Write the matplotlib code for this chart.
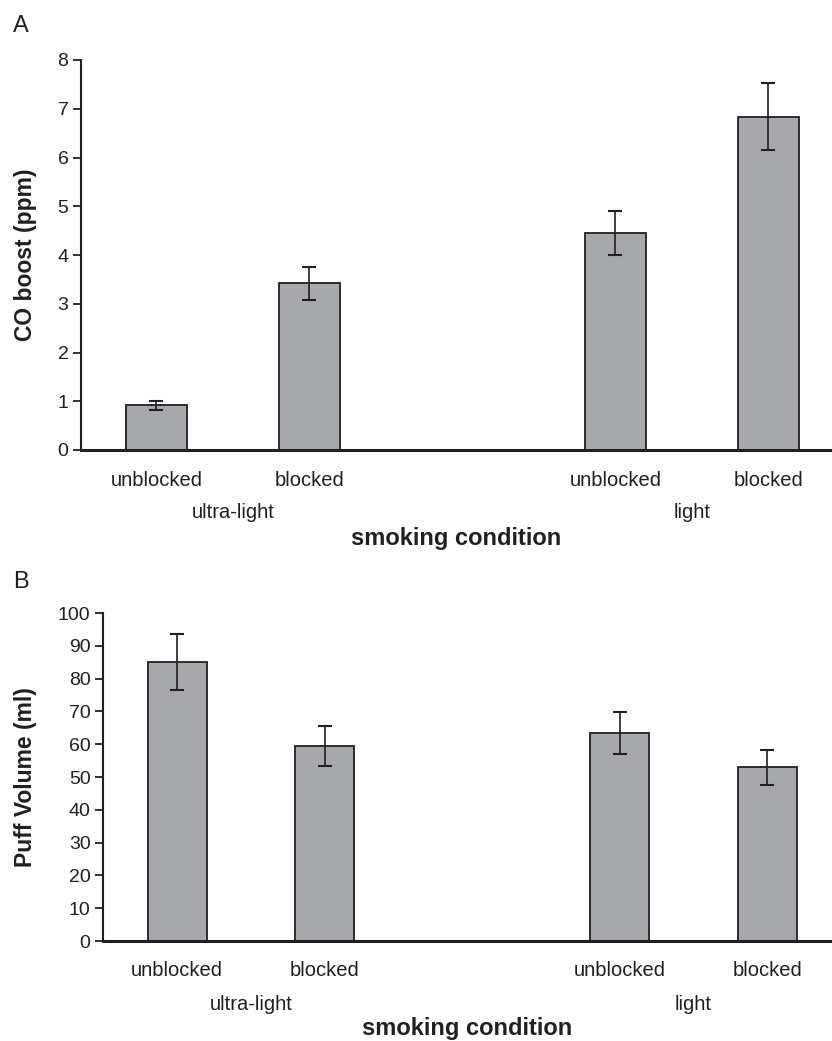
import matplotlib
matplotlib.use("Agg")
import matplotlib.pyplot as plt
from matplotlib.transforms import blended_transform_factory
import numpy as np

plt.rcParams['font.family'] = ['Liberation Sans', 'DejaVu Sans']

conditions = ["unblocked", "blocked", "unblocked", "blocked"]
groups = ["ultra-light", "light"]
positions = [0, 1, 3, 4]

co_boost = [0.92, 3.42, 4.46, 6.84]
co_err = [0.09, 0.34, 0.45, 0.68]

puff_volume = [85.0, 59.5, 63.4, 53.0]
puff_err = [8.5, 6.0, 6.3, 5.3]

W, H = 832, 1041
fig = plt.figure(figsize=(W / 100, H / 100), dpi=100)

text_color = "#231f20"
bar_color = "#a7a8ab"


def make_panel(rect, values, errs, ylim, yticks, ylabel, letter, letter_xy, xlim,
               axis_y):
    ax = fig.add_axes(rect)
    ax.bar(positions, values, width=0.4, color=bar_color, edgecolor=text_color,
           linewidth=1.3, zorder=2)
    ax.errorbar(positions, values, yerr=errs, fmt='none', ecolor=text_color,
                elinewidth=1.2, capsize=5, capthick=1.5, zorder=3)
    ax.set_ylim(*ylim)
    ax.set_xlim(*xlim)
    ax.set_yticks(yticks)
    ax.set_yticklabels([str(t) for t in yticks], fontsize=14, color=text_color)
    ax.set_xticks(positions)
    ax.set_xticklabels([])
    ax.tick_params(axis='x', length=0)
    ax.tick_params(axis='y', length=6, width=1.3, color=text_color, pad=3)
    for s in ['top', 'right']:
        ax.spines[s].set_visible(False)
    ax.spines['left'].set_linewidth(1.5)
    ax.spines['left'].set_color(text_color)
    ax.spines['bottom'].set_linewidth(2.2)
    ax.spines['bottom'].set_color(text_color)
    ax.set_ylabel(ylabel, fontsize=16.5, fontweight='bold', color=text_color)
    ax.yaxis.set_label_coords(26 / W, 0.5,
                              transform=blended_transform_factory(fig.transFigure,
                                                                  ax.transAxes))
    ax.yaxis.label.set_va('center')
    trans = blended_transform_factory(ax.transData, fig.transFigure)
    for p, c in zip(positions, conditions):
        ax.text(p, 1 - (axis_y + 30) / H, c, transform=trans, ha='center',
                va='center', fontsize=14.5, color=text_color)
    ax.text((positions[0] + positions[1]) / 2, 1 - (axis_y + 63) / H, groups[0],
            transform=trans, ha='center', va='center', fontsize=14.5,
            color=text_color)
    ax.text((positions[2] + positions[3]) / 2, 1 - (axis_y + 63) / H, groups[1],
            transform=trans, ha='center', va='center', fontsize=14.5,
            color=text_color)
    trans2 = blended_transform_factory(ax.transAxes, fig.transFigure)
    ax.text(0.5, 1 - (axis_y + 88) / H, "smoking condition", transform=trans2,
            ha='center', va='center', fontsize=17, fontweight='bold',
            color=text_color)
    fig.text(letter_xy[0], letter_xy[1], letter, fontsize=17, color=text_color,
             ha='left', va='center')
    return ax


# Panel A
axA = make_panel([81 / W, 1 - 450 / H, (W - 81) / W, 390 / H],
                 co_boost, co_err, (0, 8), list(range(0, 9)), "CO boost (ppm)",
                 "A", (13 / W, 1 - 26 / H), (-0.493, 4.415), 450)

# Panel B
axB = make_panel([103 / W, 1 - 941 / H, (W - 103) / W, 328 / H],
                 puff_volume, puff_err, (0, 100), list(range(0, 101, 10)),
                 "Puff Volume (ml)", "B", (13 / W, 1 - 582 / H), (-0.502, 4.44),
                 941)

fig.savefig("out.png", dpi=100)
